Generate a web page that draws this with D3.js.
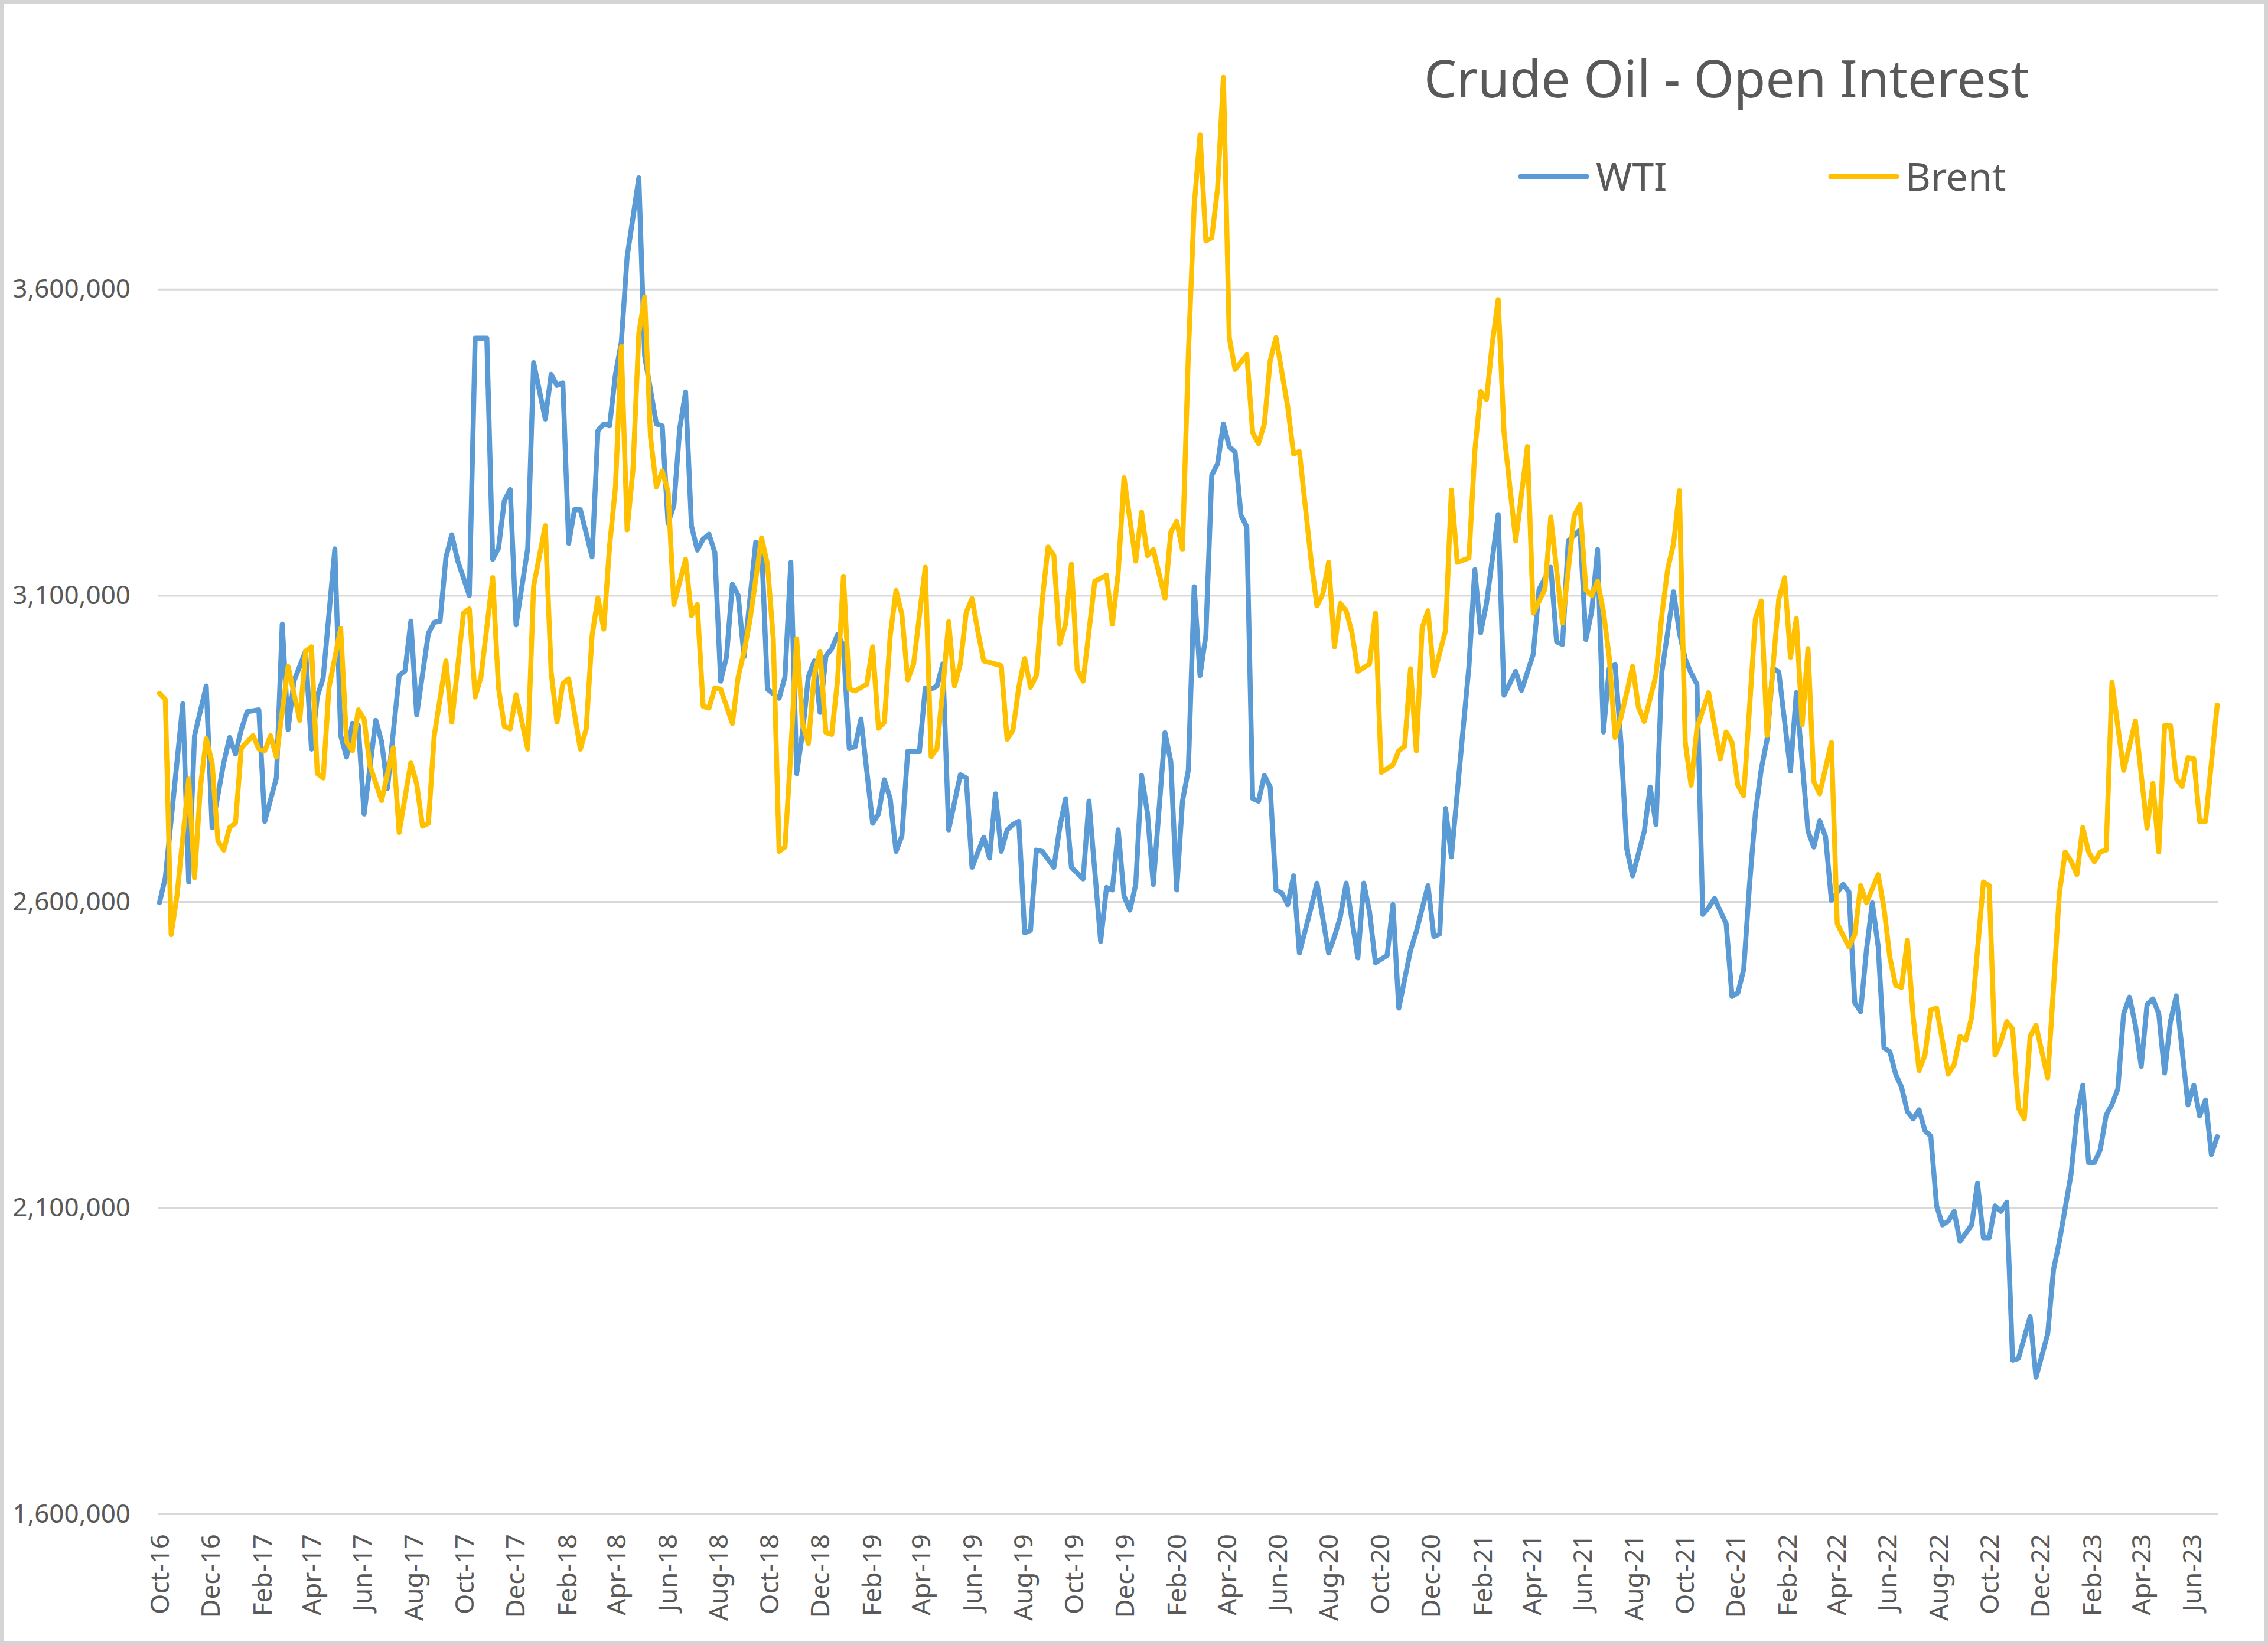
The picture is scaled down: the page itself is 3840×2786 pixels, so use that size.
<!DOCTYPE html>
<html><head><meta charset="utf-8">
<script src="https://cdn.jsdelivr.net/npm/d3@7"></script>
<style>html,body{margin:0;padding:0;background:#fff;} svg{display:block;}</style>
</head><body>
<svg id="chart" width="3840" height="2786"></svg>
<script>
// ---- data (week index since 2016-10-04, open interest in thousand contracts) ----
const startDate = new Date(2016, 9, 4);
const lastWeek = 352;
const titleText = "Crude Oil - Open Interest";
const seriesNames = ["WTI", "Brent"];
const yTicks = [1600000, 2100000, 2600000, 3100000, 3600000];

const wtiSeries = [[0,2598],[1,2639],[4,2923],[5,2632],[6,2871],[8,2952],[9,2721],[11,2827],[12,2868],[13,2841],[14,2881],[15,2910],[17,2913],[18,2731],[20,2802],[21,3053],[22,2881],[23,2960],[25,3009],[26,2849],[27,2935],[28,2965],[30,3176],[31,2871],[32,2836],[33,2891],[34,2888],[35,2743],[37,2896],[38,2861],[39,2785],[41,2969],[42,2977],[43,3058],[44,2905],[46,3038],[47,3056],[48,3058],[49,3162],[50,3199],[51,3157],[53,3100],[54,3520],[56,3520],[57,3159],[58,3177],[59,3255],[60,3273],[61,3052],[63,3177],[64,3480],[66,3388],[67,3461],[68,3443],[69,3447],[70,3185],[71,3240],[72,3240],[74,3163],[75,3369],[76,3380],[77,3377],[78,3461],[79,3513],[80,3653],[82,3782],[83,3491],[85,3380],[86,3377],[87,3218],[88,3247],[89,3373],[90,3432],[91,3214],[92,3174],[93,3192],[94,3200],[95,3170],[96,2960],[97,3000],[98,3118],[99,3100],[100,3000],[102,3187],[103,3180],[104,2947],[106,2932],[107,2967],[108,3154],[109,2809],[110,2876],[111,2967],[112,2993],[113,2909],[114,3001],[115,3013],[116,3036],[117,3018],[118,2850],[119,2853],[120,2898],[122,2728],[123,2743],[124,2799],[125,2768],[126,2682],[127,2707],[128,2845],[130,2845],[131,2949],[132,2947],[133,2952],[134,2988],[135,2717],[137,2807],[138,2802],[139,2656],[141,2705],[142,2671],[143,2776],[144,2682],[145,2717],[146,2726],[147,2731],[148,2549],[149,2553],[150,2684],[151,2682],[153,2656],[154,2721],[155,2768],[156,2656],[158,2637],[159,2764],[161,2535],[162,2623],[163,2619],[164,2717],[165,2609],[166,2586],[167,2628],[168,2806],[169,2745],[170,2628],[172,2876],[173,2829],[174,2619],[175,2764],[176,2815],[177,3114],[178,2969],[179,3035],[180,3296],[181,3315],[182,3380],[183,3343],[184,3334],[185,3231],[186,3212],[187,2768],[188,2764],[189,2806],[190,2787],[191,2619],[192,2614],[193,2595],[194,2642],[195,2516],[197,2590],[198,2630],[200,2516],[201,2543],[202,2575],[203,2630],[205,2508],[206,2630],[207,2583],[208,2500],[210,2512],[211,2595],[212,2426],[214,2520],[215,2551],[217,2626],[218,2543],[219,2547],[220,2752],[221,2673],[223,2882],[224,2984],[225,3142],[226,3039],[227,3087],[229,3232],[230,2937],[232,2976],[233,2945],[235,3004],[236,3110],[238,3146],[239,3024],[240,3020],[241,3189],[243,3207],[244,3028],[245,3074],[246,3175],[247,2877],[248,2981],[249,2987],[250,2860],[251,2686],[252,2642],[254,2715],[255,2787],[256,2726],[257,2975],[259,3106],[260,3039],[261,2996],[262,2973],[263,2955],[264,2579],[265,2590],[266,2605],[268,2564],[269,2445],[270,2451],[271,2489],[272,2628],[273,2744],[274,2816],[275,2865],[276,2981],[277,2975],[279,2813],[280,2941],[282,2715],[283,2689],[284,2732],[285,2706],[286,2602],[288,2628],[289,2616],[290,2435],[291,2420],[292,2521],[293,2598],[294,2527],[295,2361],[296,2355],[297,2318],[298,2297],[299,2257],[300,2245],[301,2260],[302,2226],[303,2217],[304,2103],[305,2072],[306,2078],[307,2094],[308,2045],[310,2072],[311,2140],[312,2051],[313,2051],[314,2103],[315,2094],[316,2109],[317,1851],[318,1854],[320,1922],[321,1823],[323,1894],[324,1999],[325,2045],[327,2155],[328,2251],[329,2300],[330,2174],[331,2174],[332,2195],[333,2251],[334,2269],[335,2294],[336,2417],[337,2444],[338,2398],[339,2331],[340,2432],[341,2441],[342,2417],[343,2320],[344,2404],[345,2446],[347,2268],[348,2300],[349,2250],[350,2276],[351,2187],[352,2216]];

const brentSeries = [[0,2940],[1,2930],[2,2546],[3,2610],[5,2800],[6,2639],[7,2787],[8,2866],[9,2827],[10,2699],[11,2684],[12,2721],[13,2728],[14,2851],[16,2871],[17,2849],[18,2846],[19,2871],[20,2836],[22,2984],[24,2896],[25,3009],[26,3016],[27,2809],[28,2802],[29,2950],[31,3046],[32,2861],[33,2846],[34,2913],[35,2898],[36,2822],[38,2765],[40,2851],[41,2713],[43,2827],[44,2792],[45,2723],[46,2728],[47,2871],[49,2993],[50,2893],[52,3071],[53,3078],[54,2934],[55,2967],[57,3129],[58,2949],[59,2886],[60,2882],[61,2938],[63,2849],[64,3115],[66,3214],[67,2975],[68,2893],[69,2956],[70,2964],[72,2849],[73,2882],[74,3034],[75,3096],[76,3045],[77,3181],[78,3277],[79,3506],[80,3207],[81,3306],[82,3528],[83,3587],[84,3358],[85,3277],[86,3303],[87,3270],[88,3085],[90,3159],[91,3067],[92,3085],[93,2919],[94,2916],[95,2949],[96,2947],[98,2891],[99,2967],[100,3008],[101,3059],[103,3194],[104,3151],[105,3029],[106,2682],[107,2689],[108,2845],[109,3029],[110,2891],[111,2858],[112,2970],[113,3008],[114,2876],[115,2873],[116,2962],[117,3131],[118,2947],[119,2944],[121,2955],[122,3016],[123,2883],[124,2893],[125,3034],[126,3108],[127,3069],[128,2962],[129,2988],[131,3146],[132,2837],[133,2850],[134,2947],[135,3057],[136,2952],[137,2988],[138,3072],[139,3095],[140,3041],[141,2993],[143,2988],[144,2985],[145,2865],[146,2880],[147,2950],[148,2997],[149,2950],[150,2969],[151,3091],[152,3179],[153,3165],[154,3021],[155,3053],[156,3151],[157,2978],[158,2960],[160,3123],[162,3133],[163,3053],[164,3137],[165,3292],[167,3156],[168,3236],[169,3165],[170,3175],[172,3095],[173,3203],[174,3221],[175,3175],[176,3493],[177,3736],[178,3852],[179,3679],[180,3684],[181,3764],[182,3946],[183,3521],[184,3469],[186,3493],[187,3366],[188,3348],[189,3380],[190,3483],[191,3521],[193,3408],[194,3331],[195,3335],[197,3157],[198,3083],[199,3102],[200,3154],[201,3016],[202,3087],[203,3075],[204,3039],[205,2976],[207,2988],[208,3071],[209,2811],[211,2823],[212,2846],[213,2854],[214,2980],[215,2846],[216,3047],[217,3075],[218,2969],[220,3043],[221,3272],[222,3154],[224,3161],[225,3335],[226,3433],[227,3420],[228,3512],[229,3583],[230,3366],[232,3189],[234,3343],[235,3071],[237,3110],[238,3228],[240,3055],[242,3230],[243,3248],[244,3109],[245,3100],[246,3123],[247,3074],[248,2999],[249,2868],[250,2900],[252,2984],[253,2917],[254,2894],[256,2970],[257,3068],[258,3143],[259,3184],[260,3271],[261,2860],[262,2790],[263,2883],[265,2941],[267,2833],[268,2877],[269,2860],[270,2790],[271,2773],[272,2917],[273,3062],[274,3091],[275,2871],[277,3094],[278,3129],[279,2999],[280,3062],[281,2889],[282,3013],[283,2796],[284,2776],[286,2860],[287,2564],[289,2526],[290,2546],[291,2626],[292,2598],[294,2644],[295,2589],[296,2509],[297,2463],[298,2460],[299,2537],[300,2411],[301,2324],[302,2349],[303,2423],[304,2426],[306,2318],[307,2334],[308,2380],[309,2374],[310,2411],[312,2632],[313,2626],[314,2349],[315,2371],[316,2404],[317,2392],[318,2263],[319,2245],[320,2380],[321,2398],[323,2312],[324,2460],[325,2614],[326,2681],[327,2666],[328,2644],[329,2721],[330,2681],[331,2665],[332,2681],[333,2684],[334,2958],[336,2814],[338,2895],[340,2720],[341,2793],[342,2681],[343,2887],[344,2887],[345,2801],[346,2788],[347,2835],[348,2833],[349,2731],[350,2731],[352,2921]];

// ---- style ----
const colors = {WTI: "#5B9BD5", Brent: "#FFC000"};
const textColor = "#595959";
const gridColor = "#D9D9D9";
const FONT = "'Noto Sans', 'Open Sans', sans-serif";

const svg = d3.select("#chart");
svg.append("rect").attr("x", 0).attr("y", 0).attr("width", 3840).attr("height", 2786).attr("fill", "#fff");
svg.append("rect").attr("x", 3).attr("y", 3).attr("width", 3834).attr("height", 2780)
  .attr("fill", "none").attr("stroke", "#D4D4D4").attr("stroke-width", 6);

const toDate = w => d3.timeDay.offset(startDate, w * 7);
const endDate = toDate(lastWeek);

const x = d3.scaleTime().domain([startDate, endDate]).range([270, 3754]);
const y = d3.scaleLinear().domain([1600000, 4000000]).range([2564, 75]);

// y axis + gridlines
const gy = svg.append("g").attr("transform", "translate(267,0)")
  .call(d3.axisLeft(y).tickValues(yTicks).tickFormat(d3.format(",")).tickSize(-(3756 - 267)).tickPadding(46));
gy.select(".domain").remove();
gy.selectAll(".tick line").attr("stroke", gridColor).attr("stroke-width", 3);
gy.selectAll(".tick text").attr("fill", textColor).style("font-family", FONT).style("font-size", "44px");

// x axis (labels every 2 months)
const tickDates = d3.range(0, 41).map(k => d3.timeMonth.offset(startDate, 2 * k));
const gx = svg.append("g").attr("transform", "translate(0,2564)")
  .call(d3.axisBottom(x).tickValues(tickDates).tickFormat(d3.timeFormat("%b-%y")).tickSize(0));
gx.select(".domain").remove();
gx.selectAll(".tick text")
  .attr("transform", "rotate(-90)")
  .attr("x", -34).attr("y", 0).attr("dy", "0.35em")
  .style("text-anchor", "end")
  .attr("fill", textColor).style("font-family", FONT).style("font-size", "44px");

// lines
const line = d3.line().x(d => x(toDate(d[0]))).y(d => y(d[1] * 1000));
[["WTI", wtiSeries], ["Brent", brentSeries]].forEach(([name, data]) => {
  svg.append("path").datum(data)
    .attr("d", line)
    .attr("fill", "none")
    .attr("stroke", colors[name])
    .attr("stroke-width", 8.5)
    .attr("stroke-linejoin", "round")
    .attr("stroke-linecap", "round");
});

// title
const title = svg.append("text").attr("x", 2411).attr("y", 165)
  .attr("fill", textColor).style("font-family", FONT).style("font-size", "90px")
  .text(titleText);
const tw = title.node().getComputedTextLength();
title.style("font-size", (90 * 1025 / tw) + "px");

// legend
const legendPos = [{lx: 2575, tx: 2702}, {lx: 3100, tx: 3226}];
seriesNames.forEach((name, i) => {
  const p = legendPos[i];
  svg.append("line").attr("x1", p.lx).attr("x2", p.lx + 111).attr("y1", 299).attr("y2", 299)
    .attr("stroke", colors[name]).attr("stroke-width", 9).attr("stroke-linecap", "round");
  svg.append("text").attr("x", p.tx).attr("y", 323)
    .attr("fill", textColor).style("font-family", FONT).style("font-size", "66px")
    .text(name);
});
</script>
</body></html>
